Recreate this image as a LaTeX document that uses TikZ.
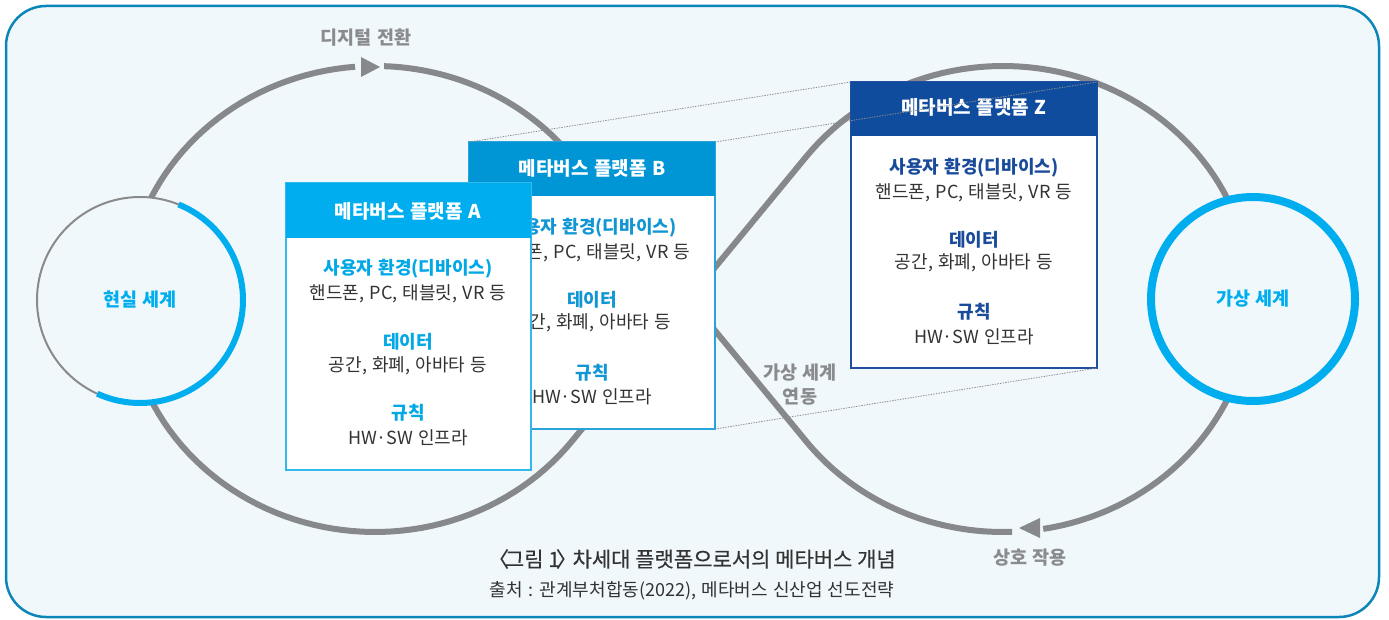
\documentclass[tikz,border=0pt]{standalone}
\usepackage{fontspec}
\setmainfont[WordSpace=1.3]{Noto Sans CJK KR}
\newfontfamily\capfont[FakeBold=0.3]{Noto Sans CJK KR}
\definecolor{bgc}{HTML}{F1F8FC}
\definecolor{framec}{HTML}{0B86B8}
\definecolor{curvegray}{HTML}{87888C}
\definecolor{circgray}{HTML}{8A8A8A}
\definecolor{cyanc}{HTML}{00AEEF}
\definecolor{headB}{HTML}{0095D5}
\definecolor{headZ}{HTML}{0F4C9E}
\definecolor{textdark}{HTML}{333333}
\definecolor{lblgray}{HTML}{8A8B8E}
\definecolor{labA}{HTML}{00A8E6}
\definecolor{labB}{HTML}{1196D4}
\definecolor{labZ}{HTML}{1A4B9B}
\definecolor{bordA}{HTML}{33B8EC}
\definecolor{bordB}{HTML}{2AA3DB}
\definecolor{bordZ}{HTML}{1F4F9E}
\definecolor{dotc}{HTML}{8C8C8C}
\begin{document}
\begin{tikzpicture}[x=1pt,y=-1pt,
  curve/.style={draw=curvegray, line width=6pt, line cap=butt, line join=round},
  arrowtri/.style={fill=curvegray},
  bodybox/.style={rectangle, fill=white, line width=1.6pt, inner sep=0pt, outer sep=0pt, minimum width=245pt, minimum height=287pt, anchor=north west},
  headbox/.style={rectangle, inner sep=0pt, outer sep=0pt, minimum width=245pt, minimum height=55pt, anchor=north west},
  hdrtxt/.style={text=white, font=\bfseries\fontsize{19}{21}\selectfont, inner sep=0pt},
  labtxt/.style={font=\bfseries\fontsize{18}{20}\selectfont, inner sep=0pt},
  bodytxt/.style={text=textdark, font=\fontsize{18}{20}\selectfont, inner sep=0pt},
  graylbl/.style={text=lblgray, font=\bfseries\fontsize{18.5}{24}\selectfont, inner sep=0pt, align=center},
  circlbl/.style={text=cyanc, font=\bfseries\fontsize{18.5}{20}\selectfont},
  dotline/.style={draw=dotc, line width=0.8pt, dash pattern=on 1.4pt off 1.2pt}
]
\useasboundingbox (0,0) rectangle (1389,620);
% frame
\node[rectangle, draw=framec, fill=bgc, line width=2.5pt, rounded corners=40pt, minimum width=1373pt, minimum height=611pt, anchor=north west, inner sep=0pt, outer sep=0pt] (frame) at (6,6) {};

% figure-eight curve
\draw[curve] plot[domain=-87.9:-37.66, samples=40, variable=\t] ({375+248.6*cos(\t)},{299+233*sin(\t)})
  -- plot[domain=142.34:87.9, samples=40, variable=\t] ({1003+248.6*cos(\t)},{299+233*sin(\t)});
\draw[curve] plot[domain=80.7:-142.34, samples=100, variable=\t] ({1003+248.6*cos(\t)},{299+233*sin(\t)})
  -- plot[domain=37.66:265.4, samples=100, variable=\t] ({375+248.6*cos(\t)},{299+233*sin(\t)});
\coordinate (ta) at (380,67);
\coordinate (ba) at (1019,528);
\fill[arrowtri] (ta) -- (361,57) -- (361,77) -- cycle;
\fill[arrowtri] (ba) -- (1040,518) -- (1040,538) -- cycle;

% circles
\node[circle, draw=circgray, fill=bgc, line width=2pt, minimum size=206pt, inner sep=0pt] (real) at (140,300) {};
\draw[cyanc, line width=6pt] plot[domain=-68:114.5, samples=60, variable=\t] ({140+103*cos(\t)},{300+103*sin(\t)});
\node[circlbl] (realtxt) at (real) {현실 세계};
\node[circle, draw=cyanc, fill=bgc, line width=8pt, minimum size=204pt, inner sep=0pt, circlbl] (virt) at (1253,299) {가상 세계};

% box B
\node[bodybox, draw=bordB, minimum width=246pt] (Bbody) at (469,142) {};
\node[headbox, fill=headB, minimum width=246pt, minimum height=54pt] (Bhead) at (469,142) {};
\node[hdrtxt] (Bt) at (592,168) {메타버스 플랫폼 B};
\node[labtxt, text=labB] (B1) at (592,228) {사용자 환경(디바이스)};
\node[bodytxt] (B2) at (592,253) {핸드폰, PC, 태블릿, VR 등};
\node[labtxt, text=labB] (B3) at (592,300) {데이터};
\node[bodytxt] (B4) at (592,323) {공간, 화폐, 아바타 등};
\node[labtxt, text=labB] (B5) at (592,373) {규칙};
\node[bodytxt] (B6) at (592,397) {HW·SW 인프라};

% box A
\node[bodybox, draw=bordA] (Abody) at (286,183) {};
\node[headbox, fill=cyanc] (Ahead) at (286,183) {};
\node[hdrtxt] (At) at (408,211) {메타버스 플랫폼 A};
\node[labtxt, text=labA] (A1) at (408,269) {사용자 환경(디바이스)};
\node[bodytxt] (A2) at (408,294) {핸드폰, PC, 태블릿, VR 등};
\node[labtxt, text=labA] (A3) at (408,342) {데이터};
\node[bodytxt] (A4) at (408,366) {공간, 화폐, 아바타 등};
\node[labtxt, text=labA] (A5) at (408,413) {규칙};
\node[bodytxt] (A6) at (408,438) {HW·SW 인프라};

% box Z
\node[bodybox, draw=bordZ, line width=1.2pt, minimum width=246pt, minimum height=286pt] (Zbody) at (851,82) {};
\node[headbox, fill=headZ, minimum width=246pt, minimum height=54pt] (Zhead) at (851,82) {};
\node[hdrtxt] (Zt) at (974,107) {메타버스 플랫폼 Z};
\node[labtxt, text=labZ] (Z1) at (974,168) {사용자 환경(디바이스)};
\node[bodytxt] (Z2) at (974,193) {핸드폰, PC, 태블릿, VR 등};
\node[labtxt, text=labZ] (Z3) at (974,240) {데이터};
\node[bodytxt] (Z4) at (974,263) {공간, 화폐, 아바타 등};
\node[labtxt, text=labZ] (Z5) at (974,312) {규칙};
\node[bodytxt] (Z6) at (974,337) {HW·SW 인프라};

% dotted projection lines
\draw[dotline] (Bbody.north west) -- (Zbody.north west);
\draw[dotline] (Bbody.north east) -- (Zbody.north east);
\draw[dotline] (Bbody.south east) -- (Zbody.south east);

% gray labels
\node[graylbl] (dt) at (366,38) {디지털 전환};
\node[graylbl] (link) at (800,385) {가상 세계\\연동};
\node[graylbl] (inter) at (1030,558) {상호 작용};

% caption
\node[text=textdark, font=\capfont\fontsize{21}{23}\selectfont, inner sep=0pt] (cap) at (692,559) {〈\kern-0.2em그림 1\kern-0.2em〉\kern-0.2em 차세대 플랫폼으로서의 메타버스 개념};
\node[text=textdark, font=\fontsize{18}{20}\selectfont, inner sep=0pt] (src) at (692,591) {출처 : 관계부처합동(2022), 메타버스 신산업 선도전략};
\end{tikzpicture}
\end{document}
